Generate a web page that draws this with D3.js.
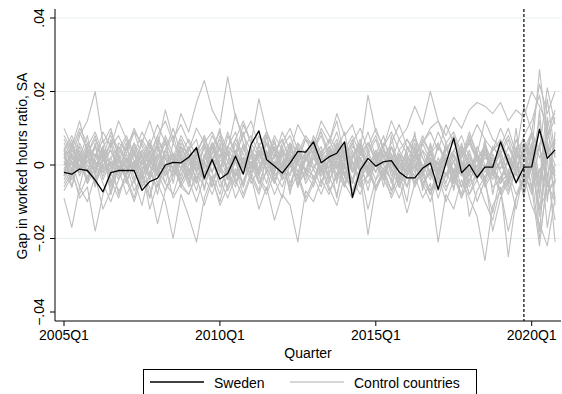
<!DOCTYPE html>
<html>
<head>
<meta charset="utf-8">
<script src="https://cdn.jsdelivr.net/npm/d3@7"></script>
<style>
  html, body { margin: 0; padding: 0; background: #fff; }
  svg { display: block; font-family: "Liberation Sans", Arial, Helvetica, sans-serif; }
</style>
</head>
<body>
<div id="chart"></div>
<script>
// Quarters 2005Q1 .. 2020Q4
const quarters = d3.range(2005, 2021).flatMap(y => [1, 2, 3, 4].map(q => y + 'Q' + q));
const xTickLabels = ['2005Q1', '2010Q1', '2015Q1', '2020Q1'];
const yTicks = [-0.04, -0.02, 0, 0.02, 0.04];
const treatmentQuarter = '2019Q4';

// Sweden, gap in thousandths
const sweden = [
  -2.0, -2.5, -1.1, -1.5, -4.1, -7.3, -2.1, -1.5,
  -1.5, -1.5, -6.9, -4.5, -3.6, 0.0, 0.7, 0.6,
  2.1, 4.7, -3.6, 1.5, -3.8, -2.3, 2.4, -2.5,
  5.6, 9.3, 1.4, -0.3, -2.2, 0.5, 3.7, 3.5,
  6.3, 0.6, 2.2, 3.2, 6.3, -8.8, -1.4, 1.8,
  -0.3, 0.9, 1.2, -1.9, -3.5, -3.5, -0.9, 0.5,
  -6.6, 0.5, 7.3, -2.1, 0.1, -3.4, -0.6, -0.6,
  6.3, 0.6, -4.8, -0.6, -0.5, 9.7, 1.8, 4.1
];

// Control countries, gap in thousandths
const controls = [
  [6,2,9,4,-1,5,8,3, 0,6,2,-3,4,7,1,5, 3,-2,6,9,4,1,7,3, -1,5,2,8,4,0,6,3, 7,2,5,-1,4,8,3,6, 1,5,9,4,7,3,6,10, 12,8,13,10,15,17,16,14, 17,12,15,13,20,16,11,14],
  [3,-2,8,12,20,6,10,2, -3,5,1,-4,7,2,-1,6, 3,-5,2,8,4,-2,6,1, -3,4,0,7,-2,3,-6,2, 5,-1,4,-3,6,1,-4,3, 7,0,5,-2,3,-5,4,1, -3,6,2,-1,8,3,-4,5, 2,-6,4,7,1,12,-3,6],
  [-9,-17,-6,-10,-3,-12,-7,-1, -8,-4,-11,-2,-6,0,-9,-5, -1,-7,1,-4,-10,-2,-6,2, -3,-8,-1,-5,1,-7,-2,-9, -4,0,-6,-11,-3,-7,-1,-5, 1,-4,-8,-2,-6,0,-5,-10, -3,-7,-1,-9,-4,0,-6,-2, -8,-3,1,-5,-1,-12,-7,-4],
  [2,7,-1,5,9,3,-2,6, 4,10,5,1,8,12,6,14, 9,17,23,15,11,24,13,8, 12,5,9,3,7,1,6,-2, 4,8,2,6,-1,5,3,9, 2,-3,5,1,7,4,-1,3, 6,0,4,8,2,-2,5,1, 3,7,-1,4,9,2,6,0],
  [-4,1,-6,3,-2,5,-8,0, -3,-9,-1,-12,-5,-10,-20,-8, -14,-21,-9,-3,-11,-6,-1,-8, -2,-7,3,-4,-9,1,-5,-2, -6,2,-3,-8,0,-5,4,-1, -7,-2,3,-4,1,-6,-1,5, -3,2,-5,0,-8,-2,4,-3, 1,-5,-1,3,-6,-2,5,-4],
  [5,0,3,-4,2,7,-1,4, 8,3,-2,5,1,-3,6,2, -4,3,8,1,-2,5,9,0, 4,-1,6,2,-3,5,1,7, 3,-2,4,9,1,6,-1,3, -2,4,1,-4,5,2,8,3, 0,5,-3,2,6,1,-2,4, 7,2,-1,5,3,-4,9,2],
  [1,-3,4,-1,-5,2,-2,3, -4,0,-6,1,-2,-7,-3,2, -1,-5,3,-2,-8,1,-4,-9, -3,-12,-6,-15,-8,-11,-21,-7, -10,-4,-8,-2,-6,1,-5,-3, 0,-4,2,-6,-1,3,-3,-7, -2,1,-5,-1,4,-3,0,-6, -4,2,-2,-8,0,5,-5,-1],
  [-2,4,1,6,0,3,-3,5, 2,-1,7,3,-2,4,8,1, 5,0,-4,6,2,9,3,-1, 4,1,6,-2,5,8,2,7, 3,10,6,14,8,11,4,19, 9,5,12,7,10,16,11,20, 12,6,9,3,7,1,5,-2, 4,8,2,6,-1,10,3,7],
  [3,-1,5,0,-4,2,6,-2, 1,4,-3,2,-5,0,3,-1, 5,-2,1,-6,2,4,-3,0, -2,3,-1,5,-4,1,-2,4, 0,-3,2,-1,-5,3,-2,1, -4,2,-1,-6,0,-3,-9,-5, -21,-8,-12,-4,-9,-14,-26,-11, -7,-18,-9,-3,-6,-1,-8,-4],
  [-1,3,-3,2,5,-2,1,-4, 2,-2,4,0,-3,3,-1,5, 1,-4,2,6,-1,3,-5,2, 0,4,-2,3,-1,6,0,-3, 2,-1,5,1,-3,4,-2,0, 3,-2,1,-4,2,-1,4,-3, 1,-5,3,-2,-8,-4,-10,-15, -6,-25,-9,-4,3,26,8,15],
  [-6,-2,-8,-3,1,-5,-10,-4, 0,-7,-3,-9,-1,-5,2,-6, -8,-3,-11,-4,0,-7,-2,-5, 1,-4,-8,-2,-6,0,-3,-10, -5,-1,-7,-3,2,-4,-8,-2, -6,-1,-4,-9,-3,0,-5,-2, -7,-3,1,-6,-2,-10,-4,0, -5,-2,-8,-3,-11,-16,-22,-9],
  [8,4,10,6,2,9,5,12, 7,3,9,5,11,6,2,8, 4,10,6,1,8,3,7,12, 6,2,9,4,-1,6,3,8, 5,9,3,7,1,6,10,4, 8,2,6,11,5,1,7,3, 9,4,8,2,6,11,7,4, 10,5,1,8,12,19,7,13],
  [0,6,2,-5,3,-1,7,1, -3,4,0,6,-2,8,3,-4, 2,-1,5,-6,1,3,-3,6, -1,2,8,-2,4,0,-5,3, 6,-2,1,5,-3,2,7,-1, 4,0,-4,3,1,6,-2,2, -1,5,1,-3,3,-2,6,0, 4,-3,2,-9,5,-6,18,3],
  [-3,2,-1,4,1,-2,5,8, 3,9,6,12,5,15,7,11, 6,3,8,1,5,-2,4,0, 3,-3,2,5,-1,4,1,-4, 2,5,-2,3,0,-4,3,1, -2,4,0,2,-3,5,-1,3, 0,-3,4,1,-2,3,-4,2, -1,5,0,-3,6,-12,4,-2],
  [4,-6,2,8,-3,5,-8,1, 6,-4,3,-9,2,7,-5,4, -2,5,-7,3,10,-4,1,-6, 5,-3,8,-1,3,-8,4,-2, 7,-5,2,-9,4,-1,6,-3, 3,-6,8,-2,-10,4,-3,6, -2,3,-7,5,1,-4,7,-8, 2,-5,10,-7,4,-18,6,-9],
  [-5,-1,-9,-6,-18,-8,-2,-7, -4,-10,-3,-6,-16,-7,-1,-5, -8,-2,-6,1,-4,-9,-3,2, -5,-1,3,-4,0,-6,2,-2, -4,1,-3,5,-1,-5,2,-2, 0,-3,3,-6,-1,2,-4,-8, -3,1,-2,-6,2,-1,-4,3, -2,-7,-1,4,-3,-20,-5,-10],
  [2,5,-2,3,7,1,4,-1, 3,0,6,2,-3,4,1,7, 2,-2,5,3,7,1,-3,4, 8,3,6,2,9,4,11,7, 5,12,8,4,9,-2,3,6, 1,-4,5,-1,3,7,2,-3, 6,1,-2,4,-5,2,5,-1, 3,-2,7,1,9,22,14,20],
  [1,-4,0,5,-2,3,-6,2, -1,4,-3,1,6,-2,3,-5, 0,2,-4,5,-1,-6,3,1, -3,6,-2,0,4,-5,1,3, -4,2,-1,6,-3,1,-6,4, -2,3,-5,1,-3,9,-7,2, -4,5,-2,-8,1,-3,4,-1, -5,2,-3,6,-1,10,-4,7],
  [4,1,-2,3,-5,0,2,-3, 5,-1,3,-4,1,6,-2,2, -3,4,0,-2,5,-1,3,-6, 1,-2,4,-3,0,3,-4,2, -1,3,-5,2,-2,-7,-3,-19, -6,-2,-9,-4,-13,-5,-1,-8, -3,-10,-4,1,-6,-2,-5,-13, -3,-8,-1,-4,2,5,-6,0],
  [-2,3,0,-4,1,5,-1,2, -5,1,-2,4,-3,0,3,-1, 2,-4,1,5,-2,8,3,11, 6,18,9,4,7,1,5,-2, 3,-1,4,0,-3,2,6,-2, 1,4,-2,3,-1,5,0,-4, 2,-3,1,5,-2,0,3,-1, -4,2,-1,4,-6,-22,-3,-15],
  [7,3,-1,4,0,-3,2,5, 1,-2,4,0,5,-3,1,-6, -2,3,-1,6,0,-4,2,-1, 3,-5,1,-2,5,0,-3,2, -1,4,-4,0,3,-2,5,-1, 4,-2,1,-5,2,0,-3,3, -1,2,-4,1,-2,3,-1,5, 2,-4,3,-1,6,-8,11,-5],
  [-1,-6,3,-2,6,-4,1,-8, -2,3,-5,0,-8,2,-3,1, -6,1,-3,-8,-2,4,-5,-1, 2,-3,-7,1,-4,-2,3,-5, -1,-6,2,-4,1,-8,-2,-12, -4,-1,-7,3,-3,1,-6,-1, -9,-2,-6,1,-14,-7,-3,-18, -9,-4,-2,-6,1,-14,2,-21],
  [2,-3,6,1,-2,4,-5,3, 7,1,-4,2,5,-1,3,-3, 4,7,-2,1,6,-3,2,9, -1,4,2,-5,3,6,-2,1, 5,-3,0,4,-6,2,5,-2, 3,8,-1,4,0,-3,6,1, -2,4,7,1,-3,5,0,-4, 6,1,-5,3,8,-9,13,2],
  [-7,-3,2,-5,-1,4,-4,-9, -2,1,-6,-3,3,-5,-8,-1, -4,-10,-3,2,-6,-1,-9,-4, 0,-5,-2,-8,-3,2,-6,-1, -3,-8,-2,1,-5,-9,-4,0, -6,-2,-7,-3,1,-5,-2,-8, -1,-6,-3,-9,-2,2,-5,-1, -7,-3,-12,-2,-8,6,-17,-4],
  [10,5,12,3,8,1,6,-2, 5,9,2,7,-1,4,10,3, 7,2,-3,5,9,4,14,6, 2,8,3,-1,6,10,4,1, 8,3,6,12,2,7,-1,5, 10,4,1,7,3,-2,6,9, 4,11,6,2,9,3,12,7, 5,10,3,16,9,4,21,11],
  [0,2,-2,1,3,-1,0,2, -1,1,3,-2,0,2,-3,1, 3,0,-2,2,-1,4,1,-2, 0,3,-1,1,-3,2,0,-1, 2,-2,1,3,-1,0,2,-3, 1,-1,2,0,-2,3,-1,1, -2,0,3,-1,1,-2,2,0, -1,3,-2,1,0,-5,4,-3],
  [-3,6,-1,3,-6,1,4,-2, 2,-5,1,6,-3,4,-1,3, -5,2,6,-2,3,-4,1,5, -2,1,-5,3,-1,4,-6,2, 4,-1,3,-5,6,-2,1,-7, 2,5,-3,1,-6,3,-1,4, -5,2,-2,6,-1,-4,3,-2, 1,-4,5,-2,-7,15,-10,9],
  [4,8,3,-2,5,2,9,4, 1,6,-1,3,8,2,-3,5, 0,4,7,2,-1,5,3,8, 4,-2,3,6,1,-3,4,2, -1,3,7,2,5,-2,1,6, 2,6,3,-1,4,8,2,-2, 5,1,-3,3,7,2,-1,4, 6,0,4,-2,9,-4,7,-11]
];

const width = 562, height = 394;
const fontSize = 14;
const svg = d3.select('#chart').append('svg')
  .attr('width', width)
  .attr('height', height);

svg.append('rect').attr('width', width).attr('height', height).attr('fill', '#fff');

const axisLeft = 55, axisRight = 561, axisBottom = 321;

const x = d3.scalePoint()
  .domain(quarters)
  .range([64, 64 + 7.795 * (quarters.length - 1)]);

const y = d3.scaleLinear()
  .domain([-0.04, 0.04])
  .range([312, 18]);

// gridlines
svg.append('g')
  .selectAll('line')
  .data(yTicks.filter(t => t > -0.04))
  .join('line')
  .attr('x1', axisLeft).attr('x2', axisRight)
  .attr('y1', d => y(d)).attr('y2', d => y(d))
  .attr('stroke', '#e6eef0')
  .attr('stroke-width', 1);

const line = d3.line()
  .x((d, i) => x(quarters[i]))
  .y(d => y(d / 1000));

// control countries
svg.append('g')
  .selectAll('path')
  .data(controls)
  .join('path')
  .attr('d', line)
  .attr('fill', 'none')
  .attr('stroke', '#bfbfbf')
  .attr('stroke-width', 1.1)
  .attr('stroke-linejoin', 'round');

// Sweden
svg.append('path')
  .datum(sweden)
  .attr('d', line)
  .attr('fill', 'none')
  .attr('stroke', '#000')
  .attr('stroke-width', 1.3)
  .attr('stroke-linejoin', 'round');

// treatment line
svg.append('line')
  .attr('x1', x(treatmentQuarter)).attr('x2', x(treatmentQuarter))
  .attr('y1', 9).attr('y2', axisBottom)
  .attr('stroke', '#000')
  .attr('stroke-width', 1.2)
  .attr('stroke-dasharray', '3,2');

// y axis
const tickFormat = d => d === 0 ? '0' : d3.format('.2f')(d).replace('0.', '.').replace('-', '\u2212');
const yAxis = svg.append('g');
yAxis.append('line')
  .attr('x1', axisLeft).attr('x2', axisLeft)
  .attr('y1', 9).attr('y2', axisBottom)
  .attr('stroke', '#000').attr('stroke-width', 1);
yAxis.selectAll('.tick')
  .data(yTicks)
  .join('line')
  .attr('x1', axisLeft - 5).attr('x2', axisLeft)
  .attr('y1', d => y(d)).attr('y2', d => y(d))
  .attr('stroke', '#000');
yAxis.selectAll('text')
  .data(yTicks)
  .join('text')
  .attr('transform', d => `translate(44,${y(d)}) rotate(-90)`)
  .attr('text-anchor', 'middle')
  .attr('font-size', fontSize)
  .text(tickFormat);

svg.append('text')
  .attr('transform', `translate(27,166) rotate(-90)`)
  .attr('text-anchor', 'middle')
  .attr('font-size', fontSize)
  .text('Gap in worked hours ratio, SA');

// x axis
const xAxis = svg.append('g');
xAxis.append('line')
  .attr('x1', axisLeft).attr('x2', axisRight)
  .attr('y1', axisBottom).attr('y2', axisBottom)
  .attr('stroke', '#000');
xAxis.selectAll('line.tick')
  .data(xTickLabels)
  .join('line')
  .attr('class', 'tick')
  .attr('x1', d => x(d)).attr('x2', d => x(d))
  .attr('y1', axisBottom).attr('y2', axisBottom + 5)
  .attr('stroke', '#000');
xAxis.selectAll('text')
  .data(xTickLabels)
  .join('text')
  .attr('x', d => x(d))
  .attr('y', 340)
  .attr('text-anchor', 'middle')
  .attr('font-size', fontSize)
  .text(d => d);

svg.append('text')
  .attr('x', (axisLeft + axisRight) / 2)
  .attr('y', 358)
  .attr('text-anchor', 'middle')
  .attr('font-size', fontSize)
  .text('Quarter');

// legend
const legend = svg.append('g');
legend.append('rect')
  .attr('x', 143.5).attr('y', 369.5)
  .attr('width', 333).attr('height', 40)
  .attr('fill', '#fff')
  .attr('stroke', '#000');
const legendItems = [
  { label: 'Sweden', color: '#000', x0: 150 },
  { label: 'Control countries', color: '#c8c8c8', x0: 290 }
];
legend.selectAll('line')
  .data(legendItems)
  .join('line')
  .attr('x1', d => d.x0).attr('x2', d => d.x0 + 54)
  .attr('y1', 382).attr('y2', 382)
  .attr('stroke', d => d.color)
  .attr('stroke-width', 1.3);
legend.selectAll('text')
  .data(legendItems)
  .join('text')
  .attr('x', d => d.x0 + 64)
  .attr('y', 388)
  .attr('font-size', fontSize)
  .text(d => d.label);
</script>
</body>
</html>
